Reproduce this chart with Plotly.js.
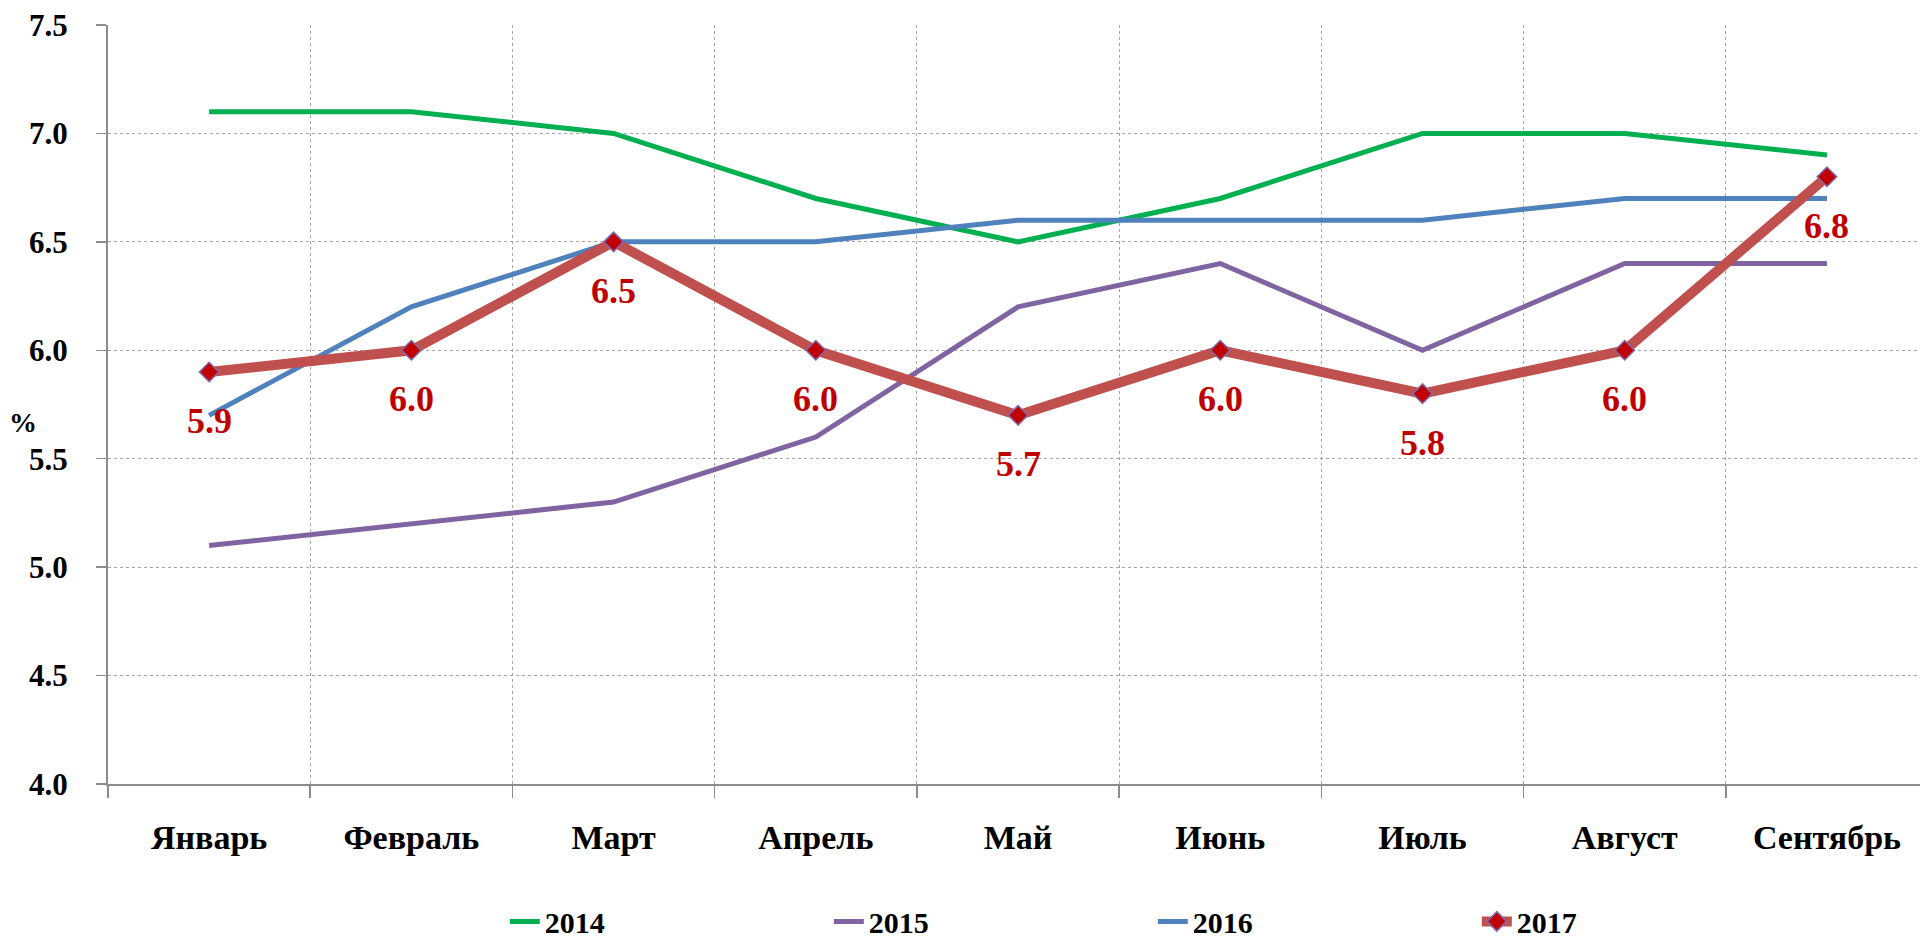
<!DOCTYPE html>
<html>
<head>
<meta charset="utf-8">
<script src="https://cdn.plot.ly/plotly-3.0.1.min.js"></script>
<style>
  html, body { margin: 0; padding: 0; background: #fff; }
  #chart { width: 1920px; height: 943px; }
</style>
</head>
<body>
<div id="chart"></div>
<script>
// months on the x axis
const months = ['Январь', 'Февраль', 'Март', 'Апрель', 'Май', 'Июнь', 'Июль', 'Август', 'Сентябрь'];

// monthly values, %
const y2014 = [7.1, 7.1, 7.0, 6.7, 6.5, 6.7, 7.0, 7.0, 6.9];
const y2015 = [5.1, 5.2, 5.3, 5.6, 6.2, 6.4, 6.0, 6.4, 6.4];
const y2016 = [5.7, 6.2, 6.5, 6.5, 6.6, 6.6, 6.6, 6.7, 6.7];
const y2017 = [5.9, 6.0, 6.5, 6.0, 5.7, 6.0, 5.8, 6.0, 6.8];

const yTicks = [4.0, 4.5, 5.0, 5.5, 6.0, 6.5, 7.0, 7.5];

const serif = 'Liberation Serif, Times New Roman, serif';

function lineTrace(name, values, color, width) {
  return {
    x: months, y: values, name: name,
    type: 'scatter', mode: 'lines',
    line: { color: color, width: width },
    hoverinfo: 'skip'
  };
}

let traces = [
  lineTrace('2014', y2014, '#00B050', 5),
  lineTrace('2015', y2015, '#8064A2', 5),
  lineTrace('2016', y2016, '#4F81BD', 5),
  {
    x: months, y: y2017, name: '2017',
    type: 'scatter', mode: 'lines+markers',
    line: { color: '#C0504D', width: 10 },
    marker: { symbol: 'diamond', size: 15, color: '#C00000', line: { color: '#7F6AAE', width: 1.5 } },
    hoverinfo: 'skip'
  }
];

// value labels under the 2017 points
let labels = months.map((m, i) => ({
  x: m, y: y2017[i], xref: 'x', yref: 'y',
  text: y2017[i].toFixed(1),
  showarrow: false, yshift: -49,
  font: { family: serif, size: 36, color: '#C00000', weight: 'bold' }
}));

labels.push({
  xref: 'paper', yref: 'paper', x: -0.047, y: 0.476,
  xanchor: 'center', yanchor: 'middle',
  text: '%', showarrow: false,
  font: { family: serif, size: 28, color: '#000', weight: 'bold' }
});

let layout = {
  width: 1920, height: 943,
  margin: { l: 108, r: 0, t: 25, b: 159, autoexpand: false },
  paper_bgcolor: '#fff', plot_bgcolor: '#fff',
  font: { family: serif, color: '#000' },
  showlegend: true,
  legend: {
    orientation: 'h', x: 0.219, xanchor: 'left', y: -0.181, yanchor: 'middle',
    entrywidth: 279, entrywidthmode: 'pixels',
    font: { family: serif, size: 30, color: '#000', weight: 'bold' },
    traceorder: 'normal'
  },
  xaxis: {
    type: 'category',
    range: [-0.5, 8.46],
    automargin: false,
    tickson: 'boundaries',
    ticks: 'outside', ticklen: 12, tickcolor: '#8c8c8c', tickwidth: 1.5,
    showline: true, linecolor: '#8c8c8c', linewidth: 2,
    showgrid: true, gridcolor: '#a6a6a6', griddash: 'dot', gridwidth: 1,
    ticklabelstandoff: 22,
    tickfont: { family: serif, size: 34, color: '#000', weight: 'bold' },
    fixedrange: true
  },
  yaxis: {
    range: [4.0, 7.5],
    automargin: false,
    tickvals: yTicks,
    ticktext: yTicks.map(v => v.toFixed(1)),
    ticks: 'outside', ticklen: 10, tickcolor: '#8c8c8c', tickwidth: 1.5,
    showline: true, linecolor: '#8c8c8c', linewidth: 2,
    showgrid: true, gridcolor: '#a6a6a6', griddash: 'dot', gridwidth: 1,
    zeroline: false,
    ticklabelstandoff: 22,
    tickfont: { family: serif, size: 31, color: '#000', weight: 'bold' },
    fixedrange: true
  },
  annotations: labels
};

Plotly.newPlot('chart', traces, layout, { displayModeBar: false, staticPlot: true });
</script>
</body>
</html>
